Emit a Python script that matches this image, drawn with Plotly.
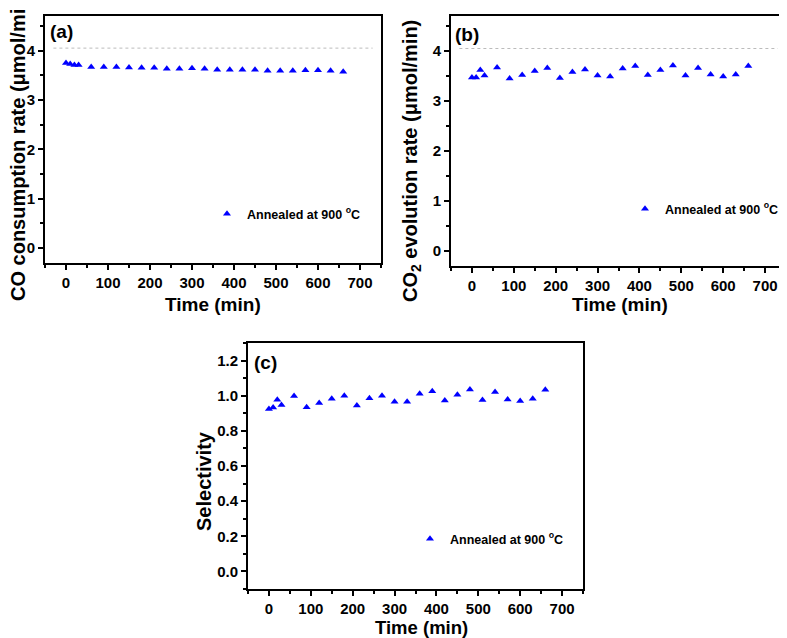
import plotly.graph_objects as go

# ---------------- data ----------------
time_min = [0, 10, 20, 30, 60, 90, 120, 150, 180, 210, 240, 270, 300,
            330, 360, 390, 420, 450, 480, 510, 540, 570, 600, 630, 660]

co_consumption = [3.75, 3.73, 3.71, 3.71, 3.67, 3.67, 3.67, 3.66, 3.65, 3.65,
                  3.63, 3.63, 3.64, 3.63, 3.61, 3.61, 3.61, 3.61, 3.59, 3.59,
                  3.59, 3.60, 3.60, 3.59, 3.57]

co2_evolution = [3.47, 3.47, 3.62, 3.51, 3.67, 3.45, 3.52, 3.60, 3.66, 3.46,
                 3.58, 3.63, 3.51, 3.49, 3.65, 3.70, 3.52, 3.62, 3.71, 3.51,
                 3.66, 3.53, 3.49, 3.53, 3.70]

selectivity = [0.924, 0.933, 0.977, 0.947, 0.998, 0.935, 0.958, 0.983, 1.000,
               0.945, 0.985, 1.000, 0.966, 0.966, 1.011, 1.025, 0.973, 1.006,
               1.036, 0.975, 1.021, 0.979, 0.970, 0.983, 1.034]

ref_level = 4.05
series_name = "Annealed at 900 <sup>o</sup>C"
panel_labels = ["(a)", "(b)", "(c)"]
x_title = "Time (min)"
y_titles = ["CO consumption rate (\u03bcmol/min)",
            "CO<sub>2</sub> evolution rate (\u03bcmol/min)",
            "Selectivity"]
x_ticks = [0, 100, 200, 300, 400, 500, 600, 700]

# ---------------- figure ----------------
# The page body has a default 8px margin, so the figure is drawn 8px smaller
# and all window positions below are shifted by that offset.
OFF = 8
W, H = 787 - OFF, 638 - OFF
FONT = "Liberation Sans, Arial, sans-serif"
BLUE = "#0000FF"

def px(x):
    return (x - OFF) / W

def py(y):
    return 1 - (y - OFF) / H

fig = go.Figure()

marker = dict(symbol="triangle-up", size=7, color=BLUE, line=dict(width=0))

fig.add_trace(go.Scatter(x=time_min, y=co_consumption, mode="markers", marker=marker,
                         name=series_name, xaxis="x", yaxis="y", legend="legend"))
fig.add_trace(go.Scatter(x=time_min, y=co2_evolution, mode="markers", marker=marker,
                         name=series_name, xaxis="x2", yaxis="y2", legend="legend2"))
fig.add_trace(go.Scatter(x=time_min, y=selectivity, mode="markers", marker=marker,
                         name=series_name, xaxis="x3", yaxis="y3", legend="legend3"))

common_axis = dict(showline=True, linewidth=2, linecolor="black", mirror=True,
                   showgrid=False, zeroline=False, ticks="outside", ticklen=5,
                   tickwidth=1.5, tickcolor="black",
                   tickfont=dict(family=FONT, size=15, color="black", weight="bold"))

def xaxis(domain, anchor):
    return dict(common_axis, domain=domain, anchor=anchor, range=[-50, 750],
                tickvals=x_ticks,
                minor=dict(ticks="outside", ticklen=3, tickwidth=1.5,
                           tickcolor="black", dtick=50, tick0=0))

def yaxis_rate(domain, anchor):
    return dict(common_axis, domain=domain, anchor=anchor, range=[-0.3, 4.7],
                tickvals=[0, 1, 2, 3, 4],
                minor=dict(ticks="outside", ticklen=3, tickwidth=1.5,
                           tickcolor="black", dtick=0.5, tick0=0))

fig.update_layout(
    width=W, height=H,
    margin=dict(l=0, r=0, t=0, b=0),
    paper_bgcolor="white", plot_bgcolor="white",
    font=dict(family=FONT, color="black", weight="bold"),
    showlegend=True,
    xaxis=xaxis([px(45), px(381)], "y"),
    yaxis=yaxis_rate([py(263), py(16)], "x"),
    xaxis2=xaxis([px(451), px(786)], "y2"),
    yaxis2=yaxis_rate([py(266), py(16)], "x2"),
    xaxis3=xaxis([px(248), px(583)], "y3"),
    yaxis3=dict(common_axis, domain=[py(589), py(343)], anchor="x3",
                range=[-0.1, 1.3], tickvals=[0, 0.2, 0.4, 0.6, 0.8, 1.0, 1.2],
                tickformat=".1f",
                minor=dict(ticks="outside", ticklen=3, tickwidth=1.5,
                           tickcolor="black", dtick=0.1, tick0=0)),
)

leg_common = dict(xanchor="left", yanchor="middle", bgcolor="rgba(0,0,0,0)",
                  borderwidth=0, font=dict(family=FONT, size=12.5, color="black",
                                           weight="bold"),
                  itemwidth=30)
fig.update_layout(
    legend=dict(leg_common, x=px(232 - 25), y=py(214)),
    legend2=dict(leg_common, x=px(651 - 26), y=py(209)),
    legend3=dict(leg_common, x=px(435 - 25), y=py(539)),
)

# dotted reference lines in (a) and (b)
for xr, yr in [("x", "y"), ("x2", "y2")]:
    fig.add_shape(type="line", xref=f"{xr} domain", yref=yr, x0=0.025, x1=0.975,
                  y0=ref_level, y1=ref_level,
                  line=dict(color="#BBBBBB", width=1, dash="dot"))

annots = []
# panel labels
for lab, (xc, yc) in zip(panel_labels, [(61, 32), (467, 35), (265, 362)]):
    annots.append(dict(text=lab, x=px(xc), y=py(yc), xref="paper", yref="paper",
                       showarrow=False, xanchor="center", yanchor="middle",
                       font=dict(family=FONT, size=19, color="black", weight="bold")))
# x titles
for (xc, yc), fs in zip([(213, 304), (620, 304), (421, 627)], [19, 19, 18.5]):
    annots.append(dict(text=x_title, x=px(xc), y=py(yc), xref="paper", yref="paper",
                       showarrow=False, xanchor="center", yanchor="middle",
                       font=dict(family=FONT, size=fs, color="black", weight="bold")))
# y titles
for txt, (xc, yc), fs in zip(y_titles, [(18, 146), (411, 161), (204, 481)],
                             [20, 20, 20]):
    annots.append(dict(text=txt, x=px(xc), y=py(yc), xref="paper", yref="paper",
                       showarrow=False, xanchor="center", yanchor="middle",
                       textangle=-90,
                       font=dict(family=FONT, size=fs, color="black", weight="bold")))
fig.update_layout(annotations=annots)

fig.write_html("out.html")
